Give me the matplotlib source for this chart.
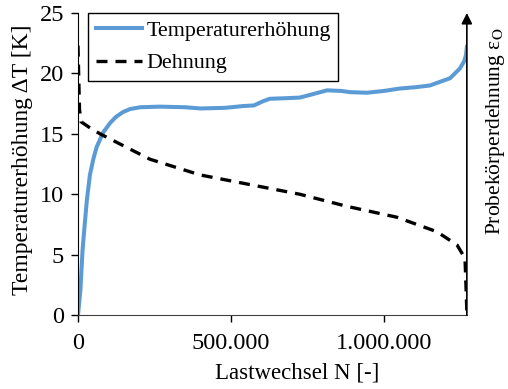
"""
Temperaturerhöhung und Dehnung über Lastwechsel
"""

import matplotlib
matplotlib.use("Agg")
import matplotlib.pyplot as plt
from matplotlib.ticker import FuncFormatter

# Temperaturerhöhung
n_temp = [0, 8e3, 15e3, 22e3, 29e3, 39e3, 50e3, 61e3, 82e3, 105e3, 124e3,
          147e3, 170e3, 203e3, 268e3, 350e3, 400e3, 480e3, 540e3, 575e3,
          605e3, 627e3, 680e3, 725e3, 770e3, 814e3, 860e3, 889e3, 944e3,
          1000e3, 1052e3, 1100e3, 1150e3, 1216e3, 1248e3, 1262e3, 1268e3,
          1271e3]
temp = [0, 2.1, 5.4, 7.5, 9.5, 11.6, 12.9, 13.9, 15.1, 15.9, 16.4,
        16.8, 17.05, 17.2, 17.25, 17.2, 17.1, 17.15, 17.3, 17.35,
        17.7, 17.9, 17.95, 18.0, 18.3, 18.6, 18.55, 18.45, 18.4,
        18.55, 18.75, 18.85, 19.0, 19.6, 20.4, 21.0, 21.5,
        22.2]

# Dehnung (secondary axis, no scale shown)
n_dehn = [0, 5e3, 10e3, 39e3, 72e3, 235e3, 399e3, 562e3, 725e3, 879e3,
          1042e3, 1173e3, 1239e3, 1265e3, 1271e3]
dehn = [22.3, 17.0, 16.0, 15.5, 15.0, 12.9, 11.6, 10.8, 10.0, 9.0,
        8.1, 6.9, 5.8, 4.7, 0.3]

x_ticks = [0, 500000, 1000000]
y_ticks = [0, 5, 10, 15, 20, 25]

plt.rcParams["font.family"] = ["Liberation Serif", "DejaVu Serif"]
plt.rcParams["mathtext.fontset"] = "stix"
plt.rcParams["font.size"] = 16


def fmt_de(v, pos):
    return f"{int(v):,}".replace(",", ".")


fig = plt.figure(figsize=(5.08, 3.89), dpi=100)
ax = fig.add_axes([0.1535, 0.19, 0.7655, 0.7766])

dash = (0, (3.3, 2.4))
ax.plot(n_temp, temp, color="#5B9BD5", lw=2.9, label="Temperaturerhöhung")
ax.plot([], [], color="black", lw=2.4, ls=dash, label="Dehnung")

ax2 = ax.twinx()
ax2.plot(n_dehn, dehn, color="black", lw=2.4, ls=dash)
ax2.set_ylim(0, 25)
ax2.set_yticks([])
for s in ax2.spines.values():
    s.set_visible(False)
ax2.set_ylabel("Probekörperdehnung ε$_\\mathrm{O}$", fontsize=15.5, labelpad=12)
ax2.yaxis.label.set_y(0.61)

ax.set_xlim(0, 1271000)
ax.set_ylim(0, 25)
ax.set_xticks(x_ticks)
ax.set_yticks(y_ticks)
ax.xaxis.set_major_formatter(FuncFormatter(fmt_de))
ax.tick_params(direction="out", length=5, width=1, labelsize=17.5)
ax.tick_params(axis="x", pad=8)
ax.tick_params(axis="y", pad=5)
ax.spines["top"].set_visible(False)
ax.spines["right"].set_visible(False)
ax.spines["bottom"].set_color("#404040")
ax.spines["left"].set_color("black")
ax.set_xlabel("Lastwechsel N [-]", fontsize=16.5, labelpad=6)
ax.xaxis.label.set_x(0.563)
ax.set_ylabel("Temperaturerhöhung ΔT [K]", fontsize=17, labelpad=5)
ax.yaxis.label.set_y(0.513)

# right axis with arrow
ax.annotate("", xy=(1, 1), xytext=(1, 0), xycoords="axes fraction",
            arrowprops=dict(arrowstyle="-|>", color="black", lw=1.2,
                            mutation_scale=16, shrinkA=0, shrinkB=0))

leg = ax.legend(loc="upper left", bbox_to_anchor=(0.026, 1.0),
                borderaxespad=0, fancybox=False, framealpha=1,
                edgecolor="black", handlelength=2.1, handletextpad=0.2,
                labelspacing=0.55, borderpad=0.35, fontsize=15.8)
leg.get_frame().set_linewidth(1.0)

fig.savefig("out.png", dpi=100)
